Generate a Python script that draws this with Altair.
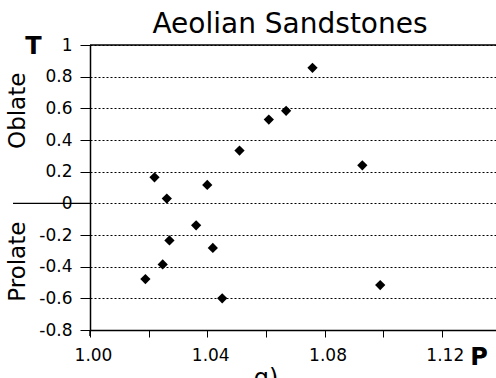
import altair as alt
import pandas as pd

# Data
p_vals = [1.0220, 1.0262, 1.0400, 1.0510, 1.0610, 1.0669, 1.0759, 1.0929,
          1.0362, 1.0271, 1.0419, 1.0248, 1.0189, 1.0451, 1.0990]
t_vals = [0.164, 0.030, 0.116, 0.333, 0.529, 0.584, 0.856, 0.240,
          -0.139, -0.234, -0.282, -0.386, -0.478, -0.600, -0.516]
x_ticks = [1.00, 1.02, 1.04, 1.06, 1.08, 1.10, 1.12]
y_ticks = [-0.8, -0.6, -0.4, -0.2, 0, 0.2, 0.4, 0.6, 0.8, 1]

FONT = "DejaVu Sans"
df = pd.DataFrame({"P": p_vals, "T": t_vals})
one = pd.DataFrame({"k": [0]})

xscale = alt.Scale(domain=[1.0, 1.1385], nice=False, zero=False)
yscale = alt.Scale(domain=[-0.8, 1.0], nice=False, zero=False)

points = alt.Chart(df).mark_point(
    shape="diamond", filled=True, color="black", size=105, opacity=1
).encode(
    x=alt.X("P:Q", scale=xscale, title=None,
            axis=alt.Axis(values=x_ticks, tickCount=20, grid=False, tickSize=7, tickWidth=1,
                          tickColor="black", domainColor="black", domainWidth=1.5,
                          labelFont=FONT, labelFontSize=17, labelColor="black",
                          labelPadding=10, labelFlush=False, labelOverlap=False, labelOffset=3,
                          labelExpr="(round(datum.value*100) % 4 == 0) ? format(datum.value, '.2f') : ''")),
    y=alt.Y("T:Q", scale=yscale, title=None,
            axis=alt.Axis(values=y_ticks, tickCount=20, grid=True, gridDash=[2, 2], gridColor="black",
                          gridWidth=1, gridOpacity=1, tickSize=10, tickWidth=1,
                          tickColor="black", domainColor="black", domainWidth=1.5,
                          labelFont=FONT, labelFontSize=17, labelColor="black",
                          labelPadding=8, labelFlush=False, labelOverlap=False,
                          labelExpr="'' + datum.value")),
)

top_line = alt.Chart(one).mark_rule(color="black", strokeWidth=1.5).encode(
    y=alt.datum(1.0, scale=yscale)
)
zero_ext = alt.Chart(one).mark_rule(color="black", strokeWidth=1.2).encode(
    x=alt.value(-77), x2=alt.value(0), y=alt.datum(0, scale=yscale)
)
yaxis_ext = alt.Chart(one).mark_rule(color="black", strokeWidth=1.5).encode(
    x=alt.datum(1.0, scale=xscale), y=alt.value(285), y2=alt.value(291)
)


def label(text, x, y, size, weight="normal", angle=0, baseline="alphabetic"):
    return alt.Chart(one).mark_text(
        text=text, font=FONT, fontSize=size, fontWeight=weight, color="black",
        align="center", baseline=baseline, angle=angle
    ).encode(x=alt.value(x), y=alt.value(y))


title = label("Aeolian Sandstones", 200, -11.7, 28)
t_lab = label("T", -56.5, 8.5, 24, weight="bold")
p_lab = label("P", 389, 320, 24, weight="bold")
oblate = label("Oblate", -65, 65.8, 23, angle=270)
prolate = label("Prolate", -65, 216.7, 23, angle=270)
g_lab = label("g)", 176, 341, 24)

chart = alt.layer(
    points, top_line, zero_ext, yaxis_ext, title, t_lab, p_lab, oblate, prolate, g_lab
).properties(
    width=406, height=285,
    autosize=alt.AutoSizeParams(type="none"),
    padding={"left": 90, "top": 45, "right": 0, "bottom": 48},
    background="white",
).configure_view(stroke=None)

chart.save("out.html", embed_options={"renderer": "svg", "actions": False})
